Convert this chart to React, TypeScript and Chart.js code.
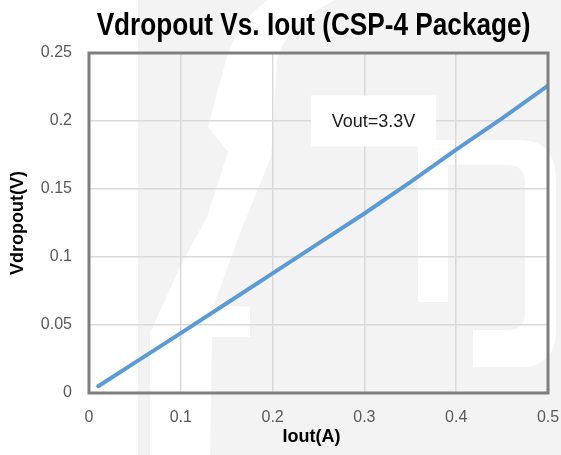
import React, { useEffect, useRef } from "react";
import { Chart, registerables } from "chart.js";
Chart.register(...registerables);

const iout = [0.01, 0.05, 0.1, 0.15, 0.2, 0.25, 0.3, 0.35, 0.4, 0.45, 0.5];
const vdropout = [0.005, 0.0223, 0.044, 0.066, 0.088, 0.11, 0.132, 0.155, 0.179, 0.202, 0.226];
const chartTitle = "Vdropout Vs. Iout (CSP-4 Package)";
const xAxisTitle = "Iout(A)";
const yAxisTitle = "Vdropout(V)";
const annotationText = "Vout=3.3V";
const annotationX = 0.31;
const annotationY = 0.2;

const fmt = (v: number) => String(parseFloat(Number(v).toFixed(2)));

const bgPlugin = {
  id: "bg",
  beforeDraw(chart: any) {
    const { ctx, width, height } = chart;
    ctx.save();
    ctx.fillStyle = "#ffffff";
    ctx.fillRect(0, 0, width, height);
    ctx.fillStyle = "#f3f3f3";
    ctx.fillRect(138, 0, width - 138, height);
    // faint watermark shapes (white on grey)
    ctx.fillStyle = "#ffffff";
    ctx.beginPath();
    ctx.moveTo(268, 0);
    ctx.lineTo(335, 0);
    ctx.quadraticCurveTo(285, 25, 277, 60);
    ctx.lineTo(271, 157);
    ctx.lineTo(240, 233);
    ctx.lineTo(214, 305);
    ctx.lineTo(250, 307);
    ctx.lineTo(250, 337);
    ctx.lineTo(212, 337);
    ctx.lineTo(210, 455);
    ctx.lineTo(150, 455);
    ctx.lineTo(150, 333);
    ctx.lineTo(180, 267);
    ctx.lineTo(207, 217);
    ctx.lineTo(228, 152);
    ctx.lineTo(208, 127);
    ctx.lineTo(226, 60);
    ctx.quadraticCurveTo(238, 20, 268, 0);
    ctx.closePath();
    ctx.fill();
    // right "D"-like glyph
    ctx.fillRect(418, 140, 30, 162);
    ctx.beginPath();
    ctx.moveTo(448, 140);
    ctx.lineTo(520, 140);
    ctx.quadraticCurveTo(556, 140, 556, 180);
    ctx.lineTo(556, 330);
    ctx.quadraticCurveTo(556, 367, 520, 367);
    ctx.lineTo(473, 367);
    ctx.lineTo(473, 330);
    ctx.lineTo(508, 330);
    ctx.quadraticCurveTo(525, 330, 525, 312);
    ctx.lineTo(525, 183);
    ctx.quadraticCurveTo(525, 165, 508, 165);
    ctx.lineTo(448, 165);
    ctx.closePath();
    ctx.fill();
    ctx.restore();
  },
};

const framePlugin = {
  id: "frame",
  afterDatasetsDraw(chart: any) {
    const { ctx, chartArea: a, scales } = chart;
    ctx.save();
    ctx.strokeStyle = "#7f7f7f";
    ctx.lineWidth = 3;
    ctx.strokeRect(a.left, a.top, a.right - a.left, a.bottom - a.top);
    const cx = scales.x.getPixelForValue(annotationX);
    const cy = scales.y.getPixelForValue(annotationY);
    const w = 125, h = 51;
    ctx.fillStyle = "#ffffff";
    ctx.fillRect(cx - w / 2, cy - h / 2, w, h);
    ctx.fillStyle = "#1a1a1a";
    ctx.font = "18px 'Liberation Sans', Arial, sans-serif";
    ctx.textAlign = "center";
    ctx.textBaseline = "middle";
    ctx.fillText(annotationText, cx, cy + 1);
    ctx.restore();
  },
  afterDraw(chart: any) {
    const { ctx, chartArea: a } = chart;
    ctx.save();
    ctx.fillStyle = "#000000";
    ctx.font = "bold 31px 'Liberation Sans', Arial, sans-serif";
    ctx.textAlign = "center";
    ctx.textBaseline = "alphabetic";
    const cx = (a.left + a.right) / 2 - 5;
    ctx.translate(cx, 35);
    ctx.scale(0.845, 1);
    ctx.fillText(chartTitle, 0, 0);
    ctx.restore();
    ctx.save();
    ctx.fillStyle = "#000000";
    ctx.font = "bold 18px 'Liberation Sans', Arial, sans-serif";
    ctx.textAlign = "center";
    ctx.textBaseline = "middle";
    ctx.fillText(xAxisTitle, (a.left + a.right) / 2 - 7, 437);
    ctx.restore();
  },
};

export default function App() {
  const ref = useRef<HTMLCanvasElement>(null);
  useEffect(() => {
    document.body.style.margin = "0";
    const chart = new Chart(ref.current!, {
      type: "line",
      data: {
        datasets: [
          {
            data: iout.map((x, i) => ({ x, y: vdropout[i] })),
            borderColor: "#5b9bd5",
            borderWidth: 4,
            pointRadius: 0,
            tension: 0,
            borderCapStyle: "round",
          },
        ],
      },
      options: {
        responsive: false,
        animation: false,
        layout: { padding: { left: 0, right: 0, top: 53, bottom: 0 } },
        plugins: {
          legend: { display: false },
          tooltip: { enabled: false },
          title: { display: false },
        },
        scales: {
          x: {
            type: "linear",
            min: 0,
            max: 0.5,
            afterFit: (s: any) => { s.height = 62; s.paddingRight = 13; s.paddingLeft = 0; },
            ticks: { stepSize: 0.1, callback: (v: any) => fmt(v), color: "#595959", font: { family: "'Liberation Sans', Arial, sans-serif", size: 16 }, padding: 15, maxRotation: 0 },
            grid: { color: "#d9d9d9", lineWidth: 1.5, drawTicks: false },
            border: { display: false },
            title: { display: false },
          },
          y: {
            type: "linear",
            min: 0,
            max: 0.25,
            afterFit: (s: any) => { s.width = 89; s.paddingTop = 0; s.paddingBottom = 0; },
            ticks: { stepSize: 0.05, callback: (v: any) => fmt(v), color: "#595959", font: { family: "'Liberation Sans', Arial, sans-serif", size: 16 }, padding: 17 },
            grid: { color: "#d9d9d9", lineWidth: 1.5, drawTicks: false },
            border: { display: false },
            title: { display: true, text: yAxisTitle, color: "#000000", font: { family: "'Liberation Sans', Arial, sans-serif", size: 18, weight: "bold", lineHeight: 1.2 }, padding: { top: 7, bottom: 0 } },
          },
        },
      },
      plugins: [bgPlugin, framePlugin],
    } as any);
    return () => chart.destroy();
  }, []);
  return (
    <div style={{ width: 561, height: 455 }}>
      <canvas ref={ref} width={561} height={455} />
    </div>
  );
}
